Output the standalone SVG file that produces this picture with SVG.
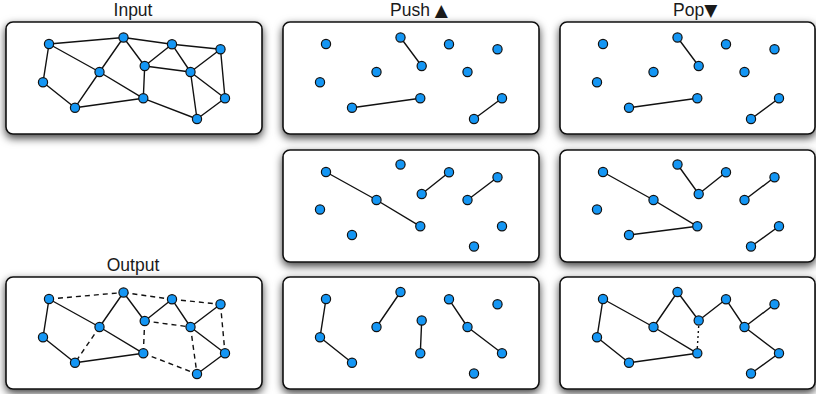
<svg xmlns="http://www.w3.org/2000/svg" xmlns:xlink="http://www.w3.org/1999/xlink" width="816" height="394" viewBox="0 0 816 394">
  <style>
    .panel { fill: #ffffff; stroke: #111111; stroke-width: 1.6; filter: url(#shadow); }
    .title { font-family: "Liberation Sans", "DejaVu Sans", Arial, sans-serif; font-size: 17.5px; fill: #1a1a1a; }
    .sym { font-family: "DejaVu Sans", sans-serif; font-size: 17px; }
    .edges line { stroke: #111111; stroke-width: 1.4; stroke-linecap: round; }
    .edges line.dash { stroke-dasharray: 5 4; stroke-linecap: butt; }
    .edges line.dot { stroke-dasharray: 2 3; stroke-linecap: butt; }
    .node { fill: #1496f4; stroke: #111111; stroke-width: 1.2; }
  </style>
  <defs>
    <filter id="shadow" x="-10%" y="-25%" width="120%" height="155%">
      <feDropShadow dx="0" dy="3.5" stdDeviation="4.5" flood-color="#000000" flood-opacity="0.75"/>
    </filter>
    <circle id="dot" r="4.6"/>
  </defs>
  <rect width="816" height="394" fill="#ffffff"/>

  <!-- titles -->
  <text class="title" x="133" y="16" text-anchor="middle">Input</text>
  <text class="title" x="390" y="16">Push <tspan class="sym">▲</tspan></text>
  <text class="title" x="673" y="16">Pop<tspan class="sym">▼</tspan></text>
  <text class="title" x="133" y="271" text-anchor="middle">Output</text>

  <!-- Input graph -->
  <g id="input" transform="translate(6,22)">
    <rect class="panel" x="0" y="0" width="256" height="112" rx="7"/>
    <g class="edges">
      <line x1="43" y1="22" x2="117.5" y2="15.5"/>
      <line x1="43" y1="22" x2="37" y2="60.3"/>
      <line x1="43" y1="22" x2="93.5" y2="50"/>
      <line x1="37" y1="60.3" x2="69" y2="85.7"/>
      <line x1="93.5" y1="50" x2="69" y2="85.7"/>
      <line x1="93.5" y1="50" x2="117.5" y2="15.5"/>
      <line x1="93.5" y1="50" x2="137.3" y2="76.3"/>
      <line x1="69" y1="85.7" x2="137.3" y2="76.3"/>
      <line x1="117.5" y1="15.5" x2="138.7" y2="44"/>
      <line x1="117.5" y1="15.5" x2="166" y2="22.3"/>
      <line x1="166" y1="22.3" x2="214.5" y2="27.3"/>
      <line x1="166" y1="22.3" x2="138.7" y2="44"/>
      <line x1="166" y1="22.3" x2="184.5" y2="50"/>
      <line x1="138.7" y1="44" x2="184.5" y2="50"/>
      <line x1="138.7" y1="44" x2="137.3" y2="76.3"/>
      <line x1="214.5" y1="27.3" x2="184.5" y2="50"/>
      <line x1="214.5" y1="27.3" x2="219" y2="76.3"/>
      <line x1="184.5" y1="50" x2="219" y2="76.3"/>
      <line x1="184.5" y1="50" x2="191" y2="97"/>
      <line x1="137.3" y1="76.3" x2="191" y2="97"/>
      <line x1="219" y1="76.3" x2="191" y2="97"/>
    </g>
    <g class="node" id="in-A"><use href="#dot" x="43" y="22"/></g>
    <g class="node" id="in-B"><use href="#dot" x="117.5" y="15.5"/></g>
    <g class="node" id="in-C"><use href="#dot" x="166" y="22.3"/></g>
    <g class="node" id="in-D"><use href="#dot" x="214.5" y="27.3"/></g>
    <g class="node" id="in-E"><use href="#dot" x="37" y="60.3"/></g>
    <g class="node" id="in-F"><use href="#dot" x="93.5" y="50"/></g>
    <g class="node" id="in-G"><use href="#dot" x="138.7" y="44"/></g>
    <g class="node" id="in-H"><use href="#dot" x="184.5" y="50"/></g>
    <g class="node" id="in-I"><use href="#dot" x="69" y="85.7"/></g>
    <g class="node" id="in-J"><use href="#dot" x="137.3" y="76.3"/></g>
    <g class="node" id="in-K"><use href="#dot" x="219" y="76.3"/></g>
    <g class="node" id="in-L"><use href="#dot" x="191" y="97"/></g>
  </g>

  <!-- Push step 1 -->
  <g id="push1" transform="translate(283,22)">
    <rect class="panel" x="0" y="0" width="256" height="112" rx="7"/>
    <g class="edges">
      <line x1="117.5" y1="15.5" x2="138.7" y2="44"/>
      <line x1="69" y1="85.7" x2="137.3" y2="76.3"/>
      <line x1="219" y1="76.3" x2="191" y2="97"/>
    </g>
    <g class="node" id="p1-A"><use href="#dot" x="43" y="22"/></g>
    <g class="node" id="p1-B"><use href="#dot" x="117.5" y="15.5"/></g>
    <g class="node" id="p1-C"><use href="#dot" x="166" y="22.3"/></g>
    <g class="node" id="p1-D"><use href="#dot" x="214.5" y="27.3"/></g>
    <g class="node" id="p1-E"><use href="#dot" x="37" y="60.3"/></g>
    <g class="node" id="p1-F"><use href="#dot" x="93.5" y="50"/></g>
    <g class="node" id="p1-G"><use href="#dot" x="138.7" y="44"/></g>
    <g class="node" id="p1-H"><use href="#dot" x="184.5" y="50"/></g>
    <g class="node" id="p1-I"><use href="#dot" x="69" y="85.7"/></g>
    <g class="node" id="p1-J"><use href="#dot" x="137.3" y="76.3"/></g>
    <g class="node" id="p1-K"><use href="#dot" x="219" y="76.3"/></g>
    <g class="node" id="p1-L"><use href="#dot" x="191" y="97"/></g>
  </g>

  <!-- Pop step 1 -->
  <g id="pop1" transform="translate(560,22)">
    <rect class="panel" x="0" y="0" width="255" height="112" rx="7"/>
    <g class="edges">
      <line x1="117.5" y1="15.5" x2="138.7" y2="44"/>
      <line x1="69" y1="85.7" x2="137.3" y2="76.3"/>
      <line x1="219" y1="76.3" x2="191" y2="97"/>
    </g>
    <g class="node" id="q1-A"><use href="#dot" x="43" y="22"/></g>
    <g class="node" id="q1-B"><use href="#dot" x="117.5" y="15.5"/></g>
    <g class="node" id="q1-C"><use href="#dot" x="166" y="22.3"/></g>
    <g class="node" id="q1-D"><use href="#dot" x="214.5" y="27.3"/></g>
    <g class="node" id="q1-E"><use href="#dot" x="37" y="60.3"/></g>
    <g class="node" id="q1-F"><use href="#dot" x="93.5" y="50"/></g>
    <g class="node" id="q1-G"><use href="#dot" x="138.7" y="44"/></g>
    <g class="node" id="q1-H"><use href="#dot" x="184.5" y="50"/></g>
    <g class="node" id="q1-I"><use href="#dot" x="69" y="85.7"/></g>
    <g class="node" id="q1-J"><use href="#dot" x="137.3" y="76.3"/></g>
    <g class="node" id="q1-K"><use href="#dot" x="219" y="76.3"/></g>
    <g class="node" id="q1-L"><use href="#dot" x="191" y="97"/></g>
  </g>

  <!-- Push step 2 -->
  <g id="push2" transform="translate(283,150)">
    <rect class="panel" x="0" y="0" width="256" height="112" rx="7"/>
    <g class="edges">
      <line x1="43" y1="22" x2="93.5" y2="50"/>
      <line x1="93.5" y1="50" x2="137.3" y2="76.3"/>
      <line x1="138.7" y1="44" x2="166" y2="22.3"/>
      <line x1="184.5" y1="50" x2="214.5" y2="27.3"/>
    </g>
    <g class="node" id="p2-A"><use href="#dot" x="43" y="22"/></g>
    <g class="node" id="p2-B"><use href="#dot" x="117.5" y="14.5"/></g>
    <g class="node" id="p2-C"><use href="#dot" x="166" y="22.3"/></g>
    <g class="node" id="p2-D"><use href="#dot" x="214.5" y="27.3"/></g>
    <g class="node" id="p2-E"><use href="#dot" x="37" y="59.5"/></g>
    <g class="node" id="p2-F"><use href="#dot" x="93.5" y="50"/></g>
    <g class="node" id="p2-G"><use href="#dot" x="138.7" y="44"/></g>
    <g class="node" id="p2-H"><use href="#dot" x="184.5" y="50"/></g>
    <g class="node" id="p2-I"><use href="#dot" x="69" y="85"/></g>
    <g class="node" id="p2-J"><use href="#dot" x="137.3" y="76.3"/></g>
    <g class="node" id="p2-K"><use href="#dot" x="219" y="76.3"/></g>
    <g class="node" id="p2-L"><use href="#dot" x="191" y="96.5"/></g>
  </g>

  <!-- Pop step 2 -->
  <g id="pop2" transform="translate(560,150)">
    <rect class="panel" x="0" y="0" width="255" height="112" rx="7"/>
    <g class="edges">
      <line x1="43" y1="22" x2="93.5" y2="50"/>
      <line x1="93.5" y1="50" x2="137.3" y2="76.3"/>
      <line x1="69" y1="85" x2="137.3" y2="76.3"/>
      <line x1="117.5" y1="14.5" x2="138.7" y2="44"/>
      <line x1="138.7" y1="44" x2="166" y2="22.3"/>
      <line x1="184.5" y1="50" x2="214.5" y2="27.3"/>
      <line x1="219" y1="76.3" x2="191" y2="96.5"/>
    </g>
    <g class="node" id="q2-A"><use href="#dot" x="43" y="22"/></g>
    <g class="node" id="q2-B"><use href="#dot" x="117.5" y="14.5"/></g>
    <g class="node" id="q2-C"><use href="#dot" x="166" y="22.3"/></g>
    <g class="node" id="q2-D"><use href="#dot" x="214.5" y="27.3"/></g>
    <g class="node" id="q2-E"><use href="#dot" x="37" y="59.5"/></g>
    <g class="node" id="q2-F"><use href="#dot" x="93.5" y="50"/></g>
    <g class="node" id="q2-G"><use href="#dot" x="138.7" y="44"/></g>
    <g class="node" id="q2-H"><use href="#dot" x="184.5" y="50"/></g>
    <g class="node" id="q2-I"><use href="#dot" x="69" y="85"/></g>
    <g class="node" id="q2-J"><use href="#dot" x="137.3" y="76.3"/></g>
    <g class="node" id="q2-K"><use href="#dot" x="219" y="76.3"/></g>
    <g class="node" id="q2-L"><use href="#dot" x="191" y="96.5"/></g>
  </g>

  <!-- Output graph: kept edges solid, removed edges dashed -->
  <g id="output" transform="translate(6,277)">
    <rect class="panel" x="0" y="0" width="256" height="112" rx="7"/>
    <g class="edges">
      <line class="dash" x1="43" y1="22" x2="117.5" y2="15.5"/>
      <line x1="43" y1="22" x2="37" y2="60.3"/>
      <line x1="43" y1="22" x2="93.5" y2="50"/>
      <line x1="37" y1="60.3" x2="69" y2="85.7"/>
      <line class="dash" x1="93.5" y1="50" x2="69" y2="85.7"/>
      <line x1="93.5" y1="50" x2="117.5" y2="15.5"/>
      <line x1="93.5" y1="50" x2="137.3" y2="76.3"/>
      <line x1="69" y1="85.7" x2="137.3" y2="76.3"/>
      <line x1="117.5" y1="15.5" x2="138.7" y2="44"/>
      <line class="dash" x1="117.5" y1="15.5" x2="166" y2="22.3"/>
      <line class="dash" x1="166" y1="22.3" x2="214.5" y2="27.3"/>
      <line x1="166" y1="22.3" x2="138.7" y2="44"/>
      <line x1="166" y1="22.3" x2="184.5" y2="50"/>
      <line class="dash" x1="138.7" y1="44" x2="184.5" y2="50"/>
      <line class="dash" x1="138.7" y1="44" x2="137.3" y2="76.3"/>
      <line x1="214.5" y1="27.3" x2="184.5" y2="50"/>
      <line class="dash" x1="214.5" y1="27.3" x2="219" y2="76.3"/>
      <line x1="184.5" y1="50" x2="219" y2="76.3"/>
      <line class="dash" x1="184.5" y1="50" x2="191" y2="97"/>
      <line class="dash" x1="137.3" y1="76.3" x2="191" y2="97"/>
      <line x1="219" y1="76.3" x2="191" y2="97"/>
    </g>
    <g class="node" id="out-A"><use href="#dot" x="43" y="22"/></g>
    <g class="node" id="out-B"><use href="#dot" x="117.5" y="15.5"/></g>
    <g class="node" id="out-C"><use href="#dot" x="166" y="22.3"/></g>
    <g class="node" id="out-D"><use href="#dot" x="214.5" y="27.3"/></g>
    <g class="node" id="out-E"><use href="#dot" x="37" y="60.3"/></g>
    <g class="node" id="out-F"><use href="#dot" x="93.5" y="50"/></g>
    <g class="node" id="out-G"><use href="#dot" x="138.7" y="44"/></g>
    <g class="node" id="out-H"><use href="#dot" x="184.5" y="50"/></g>
    <g class="node" id="out-I"><use href="#dot" x="69" y="85.7"/></g>
    <g class="node" id="out-J"><use href="#dot" x="137.3" y="76.3"/></g>
    <g class="node" id="out-K"><use href="#dot" x="219" y="76.3"/></g>
    <g class="node" id="out-L"><use href="#dot" x="191" y="97"/></g>
  </g>

  <!-- Push step 3 -->
  <g id="push3" transform="translate(283,277)">
    <rect class="panel" x="0" y="0" width="256" height="112" rx="7"/>
    <g class="edges">
      <line x1="43" y1="22" x2="37" y2="60.3"/>
      <line x1="37" y1="60.3" x2="69" y2="85.7"/>
      <line x1="117.5" y1="15" x2="93.5" y2="50"/>
      <line x1="138.7" y1="43.5" x2="137.3" y2="76.3"/>
      <line x1="166" y1="22.3" x2="184.5" y2="50"/>
      <line x1="184.5" y1="50" x2="219" y2="76.3"/>
    </g>
    <g class="node" id="p3-A"><use href="#dot" x="43" y="22"/></g>
    <g class="node" id="p3-B"><use href="#dot" x="117.5" y="15"/></g>
    <g class="node" id="p3-C"><use href="#dot" x="166" y="22.3"/></g>
    <g class="node" id="p3-D"><use href="#dot" x="214.5" y="27.3"/></g>
    <g class="node" id="p3-E"><use href="#dot" x="37" y="60.3"/></g>
    <g class="node" id="p3-F"><use href="#dot" x="93.5" y="50"/></g>
    <g class="node" id="p3-G"><use href="#dot" x="138.7" y="43.5"/></g>
    <g class="node" id="p3-H"><use href="#dot" x="184.5" y="50"/></g>
    <g class="node" id="p3-I"><use href="#dot" x="69" y="85.7"/></g>
    <g class="node" id="p3-J"><use href="#dot" x="137.3" y="76.3"/></g>
    <g class="node" id="p3-K"><use href="#dot" x="219" y="76.3"/></g>
    <g class="node" id="p3-L"><use href="#dot" x="191" y="96.5"/></g>
  </g>

  <!-- Pop step 3 -->
  <g id="pop3" transform="translate(560,277)">
    <rect class="panel" x="0" y="0" width="255" height="112" rx="7"/>
    <g class="edges">
      <line x1="43" y1="22" x2="37" y2="60.3"/>
      <line x1="37" y1="60.3" x2="69" y2="85.7"/>
      <line x1="43" y1="22" x2="93.5" y2="50"/>
      <line x1="93.5" y1="50" x2="117.5" y2="15"/>
      <line x1="93.5" y1="50" x2="137.3" y2="76.3"/>
      <line x1="69" y1="85.7" x2="137.3" y2="76.3"/>
      <line x1="117.5" y1="15" x2="138.7" y2="43.5"/>
      <line class="dot" x1="138.7" y1="49" x2="137.3" y2="71"/>
      <line x1="138.7" y1="43.5" x2="166" y2="22.3"/>
      <line x1="166" y1="22.3" x2="184.5" y2="50"/>
      <line x1="184.5" y1="50" x2="214.5" y2="27.3"/>
      <line x1="184.5" y1="50" x2="219" y2="76.3"/>
      <line x1="219" y1="76.3" x2="191" y2="96.5"/>
    </g>
    <g class="node" id="q3-A"><use href="#dot" x="43" y="22"/></g>
    <g class="node" id="q3-B"><use href="#dot" x="117.5" y="15"/></g>
    <g class="node" id="q3-C"><use href="#dot" x="166" y="22.3"/></g>
    <g class="node" id="q3-D"><use href="#dot" x="214.5" y="27.3"/></g>
    <g class="node" id="q3-E"><use href="#dot" x="37" y="60.3"/></g>
    <g class="node" id="q3-F"><use href="#dot" x="93.5" y="50"/></g>
    <g class="node" id="q3-G"><use href="#dot" x="138.7" y="43.5"/></g>
    <g class="node" id="q3-H"><use href="#dot" x="184.5" y="50"/></g>
    <g class="node" id="q3-I"><use href="#dot" x="69" y="85.7"/></g>
    <g class="node" id="q3-J"><use href="#dot" x="137.3" y="76.3"/></g>
    <g class="node" id="q3-K"><use href="#dot" x="219" y="76.3"/></g>
    <g class="node" id="q3-L"><use href="#dot" x="191" y="96.5"/></g>
  </g>
</svg>
